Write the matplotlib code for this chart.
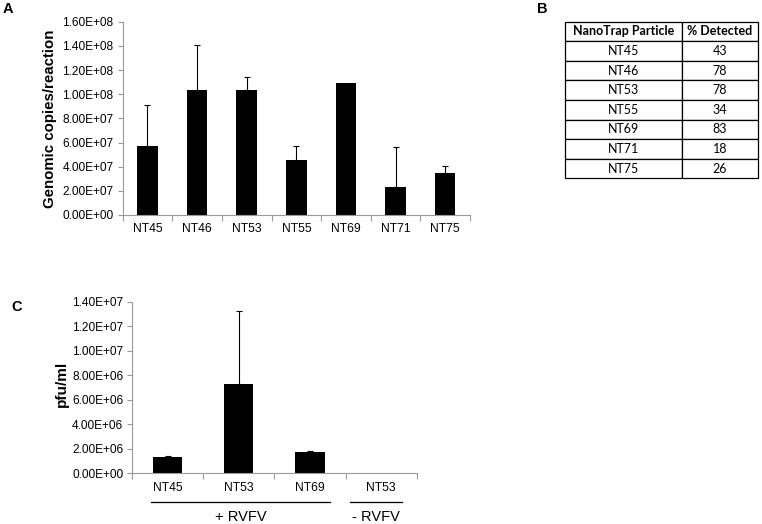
import matplotlib
matplotlib.use('Agg')
import matplotlib.pyplot as plt
from matplotlib.ticker import FuncFormatter
import numpy as np

# panel A data
particles = ['NT45', 'NT46', 'NT53', 'NT55', 'NT69', 'NT71', 'NT75']
copies = [5.69e7, 1.034e8, 1.034e8, 4.54e7, 1.092e8, 2.31e7, 3.46e7]
copies_err = [3.4e7, 3.74e7, 1.07e7, 1.18e7, 0, 3.3e7, 5.8e6]

# panel B table
table_header = ['NanoTrap Particle', '% Detected']
pct_detected = [43, 78, 78, 34, 83, 18, 26]

# panel C data
pfu_labels = ['NT45', 'NT53', 'NT69', 'NT53']
pfu = [1.32e6, 7.31e6, 1.73e6, 0]
pfu_err = [1.2e5, 5.96e6, 1.4e5, 0]
groups = [('+ RVFV', -0.23, 2.28), ('- RVFV', 2.56, 3.30)]

plt.rcParams['font.family'] = ['Liberation Sans', 'DejaVu Sans']
AXIS_GRAY = '#9a9a9a'


def excel_fmt(v, pos):
    return f'{v:.2E}'


def style_axes(ax, n):
    for s in ['top', 'right']:
        ax.spines[s].set_visible(False)
    for s in ['left', 'bottom']:
        ax.spines[s].set_color(AXIS_GRAY)
        ax.spines[s].set_linewidth(0.8)
    ax.set_xlim(-0.5, n - 0.5)
    ax.set_xticks(range(n))
    ax.set_xticks(np.arange(-0.5, n, 1.0), minor=True)
    ax.tick_params(axis='x', which='major', length=0, pad=6, labelsize=8.7)
    ax.tick_params(axis='x', which='minor', length=4, color=AXIS_GRAY, width=0.8)
    ax.tick_params(axis='y', length=3.5, color=AXIS_GRAY, width=0.8,
                   labelsize=8.6, pad=3)
    ax.yaxis.set_major_formatter(FuncFormatter(excel_fmt))


def bars_with_err(ax, vals, errs, width):
    x = np.arange(len(vals))
    ax.bar(x, vals, width=width, color='black', zorder=2)
    idx = [i for i, e in enumerate(errs) if e > 0]
    ax.errorbar(x[idx], np.array(vals)[idx],
                yerr=[np.zeros(len(idx)), np.array(errs)[idx]],
                fmt='none', ecolor='black', elinewidth=0.8,
                capsize=2.5, capthick=0.8, zorder=3)


fig = plt.figure(figsize=(7.62, 5.24), dpi=100)

# ---- A
axA = fig.add_axes([0.1610, 0.5897, 0.4558, 0.3689])
bars_with_err(axA, copies, copies_err, 0.415)
style_axes(axA, len(particles))
axA.set_xticklabels(particles)
axA.set_ylim(0, 1.6e8)
axA.set_yticks(np.arange(0, 1.61e8, 2e7))
axA.set_ylabel('Genomic copies/reaction', fontsize=10.8, fontweight='bold')
axA.yaxis.set_label_coords(-0.19, 0.5)

# ---- C
axC = fig.add_axes([0.1736, 0.0964, 0.3732, 0.3278])
bars_with_err(axC, pfu, pfu_err, 0.41)
style_axes(axC, len(pfu_labels))
axC.set_xticklabels(pfu_labels)
axC.set_ylim(0, 1.4e7)
axC.set_yticks(np.arange(0, 1.41e7, 2e6))
axC.set_ylabel('pfu/ml', fontsize=11, fontweight='bold')
axC.yaxis.set_label_coords(-0.222, 0.52)

trans = axC.get_xaxis_transform()
for name, x0, x1 in groups:
    axC.plot([x0, x1], [-0.164, -0.164], color='black', lw=0.9,
             transform=trans, clip_on=False)
    axC.text((x0 + x1) / 2, -0.255, name, transform=trans, ha='center',
             va='center', fontsize=10.5)

# ---- B table
axB = fig.add_axes([0.7415, 0.6597, 0.2537, 0.2989])
axB.axis('off')
cells = [[p, str(v)] for p, v in zip(particles, pct_detected)]
tbl = axB.table(cellText=cells, colLabels=table_header, cellLoc='center',
                colWidths=[0.604, 0.396], bbox=[0, 0, 1, 1])
tbl.auto_set_font_size(False)
for (r, c), cell in tbl.get_celld().items():
    cell.set_edgecolor('black')
    cell.set_linewidth(0.9)
    cell.get_text().set_fontfamily(['Lato', 'DejaVu Sans'])
    cell.get_text().set_fontsize(9)
    if r == 0:
        cell.get_text().set_fontweight('bold')

# panel letters
fig.text(8 / 762, 1 - 9 / 524, 'A', fontsize=10.5, fontweight='bold',
         ha='center', va='center')
fig.text(542.7 / 762, 1 - 9 / 524, 'B', fontsize=10.5, fontweight='bold',
         ha='center', va='center')
fig.text(17 / 762, 1 - 307 / 524, 'C', fontsize=10.5, fontweight='bold',
         ha='center', va='center')

fig.savefig('out.png', dpi=100)
